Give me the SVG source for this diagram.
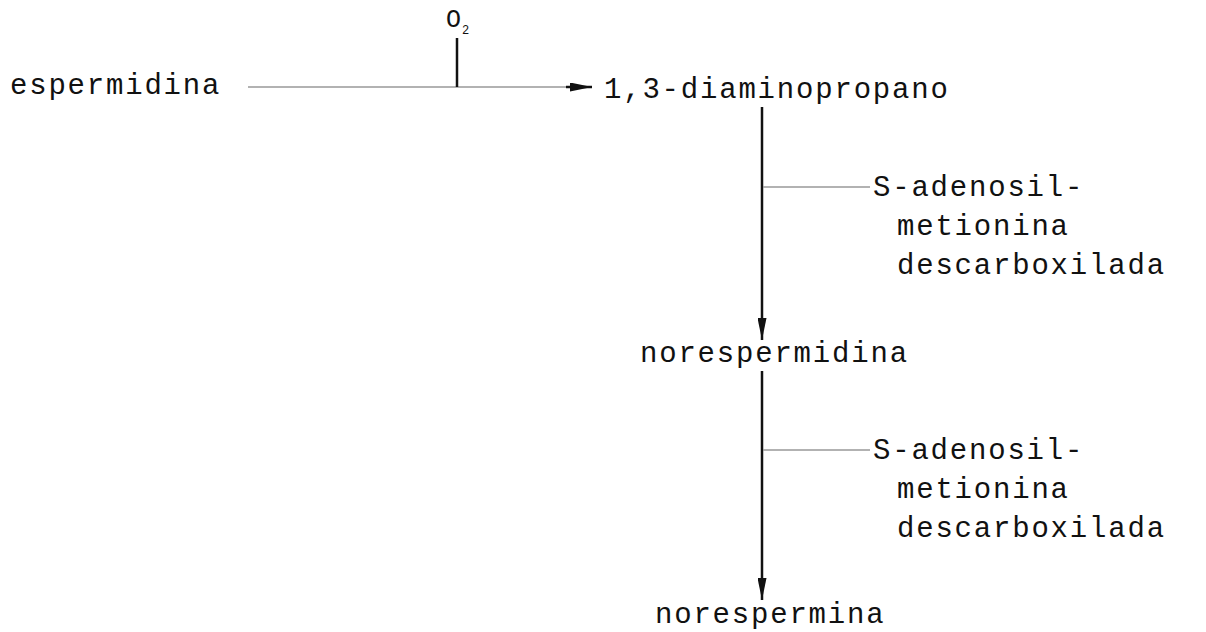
<svg xmlns="http://www.w3.org/2000/svg" width="1206" height="632" viewBox="0 0 1206 632">
<defs>
<style>
text{font-family:"Liberation Mono","DejaVu Sans Mono",monospace;font-size:29px;letter-spacing:1.8px;fill:#111}
.main{stroke:#111;stroke-width:2.5;fill:none}
.faint{stroke:#999;stroke-width:1.5;fill:none}
</style>
<marker id="ah" viewBox="0 0 22 9" refX="22" refY="4.5" markerWidth="22" markerHeight="9" markerUnits="userSpaceOnUse" orient="auto">
<path d="M0,0 L22,4.5 L0,9 Z" fill="#111"/>
</marker>
</defs>
<rect width="1206" height="632" fill="#fff"/>
<g id="connectors">
<line class="faint" x1="248" y1="87" x2="568" y2="87"/>
<line class="main" x1="566" y1="87" x2="592" y2="87" marker-end="url(#ah)"/>
<line class="main" x1="457" y1="38" x2="457" y2="87"/>
<line class="main" x1="762" y1="107" x2="762" y2="340" marker-end="url(#ah)"/>
<line class="faint" x1="763" y1="187" x2="870" y2="187"/>
<line class="main" x1="762" y1="371" x2="762" y2="600" marker-end="url(#ah)"/>
<line class="faint" x1="763" y1="450" x2="870" y2="450"/>
</g>
<g id="o2">
<text x="446" y="27" style="font-size:25px;letter-spacing:0">O<tspan dx="1" dy="7" style="font-size:12px">2</tspan></text>
</g>
<g id="espermidina"><text x="10" y="94">espermidina</text></g>
<g id="diaminopropano"><text x="604" y="98">1,3-diaminopropano</text></g>
<g id="sam1">
<text x="873" y="196">S-adenosil-</text>
<text x="897" y="235">metionina</text>
<text x="897" y="274">descarboxilada</text>
</g>
<g id="norespermidina"><text x="640" y="362">norespermidina</text></g>
<g id="sam2">
<text x="873" y="459">S-adenosil-</text>
<text x="897" y="498">metionina</text>
<text x="897" y="537">descarboxilada</text>
</g>
<g id="norespermina"><text x="655" y="623">norespermina</text></g>
</svg>
